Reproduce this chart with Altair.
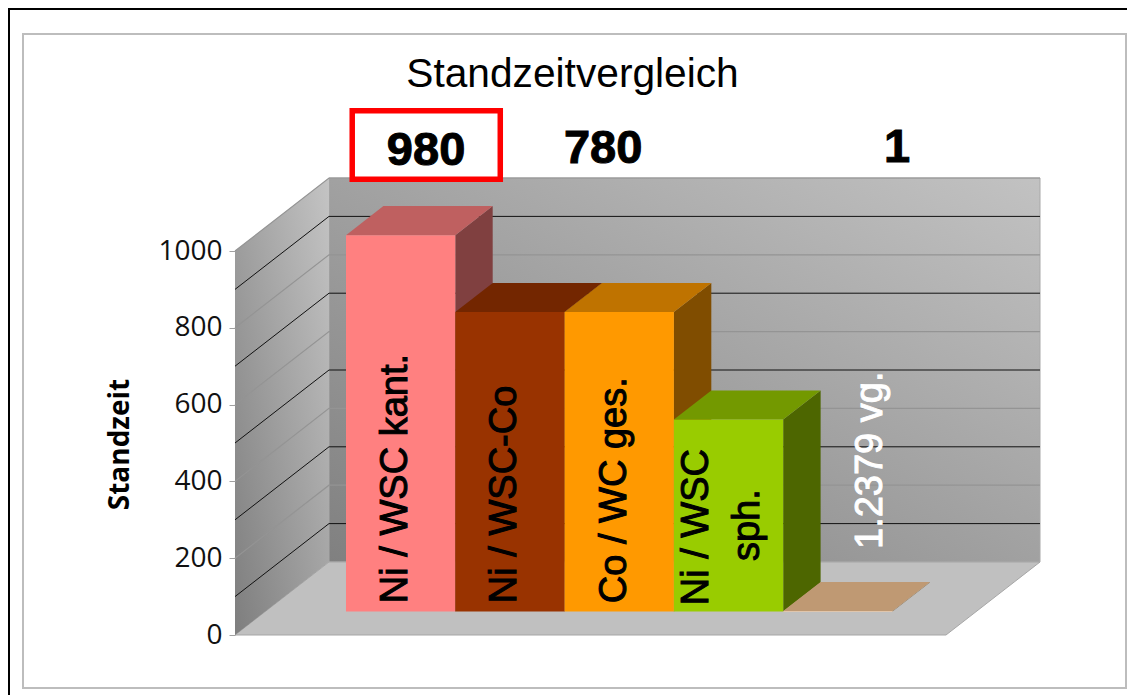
import altair as alt

# ---- data ----
series = ["Ni / WSC kant.", "Ni / WSC-Co", "Co / WC ges.", "Ni / WSC sph.", "1.2379 vg."]
values = [980, 780, 780, 500, 1]
front_colors = ["#FF8080", "#993300", "#FF9900", "#99CC00", "#FFCC99"]
top_colors = ["#BF6060", "#732600", "#BF7300", "#739900", "#BF9973"]
side_colors = ["#804040", "#4D1A00", "#804D00", "#4D6600", "#806640"]
y_ticks = [0, 200, 400, 600, 800, 1000]
grey_grid = [200, 400, 600, 800, 1000]
black_grid = [100, 300, 500, 700, 900]
top_labels = ["980", "780", "1"]

# ---- projection geometry of the oblique 3D box ----
W, H = 1119, 687
UNIT = 109.3          # pixels per bar slot
PPV = 0.384           # pixels per value unit
ORIGIN_X, ORIGIN_Y = 227, 627  # where slot 0 / value 0 of the front plane sits in the canvas
DEPTH_U = 94 / UNIT   # horizontal shift of full depth, in slots
DEPTH_V = 73 / PPV    # vertical shift of full depth, in value units
FLOOR_U = 711 / UNIT
BAR_START = 1.0155    # front-left corner of the first bar
Z0, Z1 = 0.322, 0.72

x_scale = alt.Scale(domain=[-ORIGIN_X / UNIT, (W - ORIGIN_X) / UNIT], nice=False, zero=False)
y_scale = alt.Scale(domain=[(ORIGIN_Y - H) / PPV, ORIGIN_Y / PPV], nice=False, zero=False)
y_axis = alt.Axis(
    values=y_ticks, offset=-ORIGIN_X, domain=False, grid=False, zindex=1, format="d",
    tickColor="#A0A0A0", tickSize=6, tickWidth=1, labelPadding=7,
    labelFont="Open Sans", labelFontSize=28, labelColor="#111111",
    titleFont="Open Sans", titleFontSize=28, titleFontWeight="bold", titleColor="black",
    titleX=-107, titleY=436, titleAngle=270, titleAlign="center", titleBaseline="alphabetic",
)


def X(f="x"):
    return alt.X(f + ":Q", scale=x_scale, axis=None, title=None)


def Y(f="y"):
    return alt.Y(f + ":Q", scale=y_scale, axis=y_axis, title="Standzeit")


def grad(a, b):
    return alt.Gradient(
        gradient="linear",
        stops=[alt.GradientStop(color=a, offset=0), alt.GradientStop(color=b, offset=1)],
        x1=0, y1=1, x2=1, y2=0,
    )


layers = []

# outer frames
layers.append(alt.Chart(alt.Data(values=[{"a": 0}])).mark_rule(color="black", strokeWidth=2).encode(
    x=alt.value(1), y=alt.value(0), y2=alt.value(H)))
layers.append(alt.Chart(alt.Data(values=[{"a": 0}])).mark_rule(color="black", strokeWidth=2).encode(
    y=alt.value(1), x=alt.value(0), x2=alt.value(W)))
layers.append(alt.Chart(alt.Data(values=[{"a": 0}])).mark_rect(
    fill="white", stroke="#BDBDBD", strokeWidth=2).encode(
    x=alt.value(15), x2=alt.value(1118), y=alt.value(26), y2=alt.value(680)))

# back wall
layers.append(alt.Chart(alt.Data(values=[{"x": DEPTH_U, "x2": DEPTH_U + FLOOR_U, "y": DEPTH_V, "y2": 1000 + DEPTH_V}])).mark_rect(
    color=grad("#808080", "#C2C2C2"), stroke="#A8A8A8", strokeWidth=1
).encode(x=X(), x2="x2:Q", y=Y(), y2="y2:Q"))

# floor
floor = [{"y": z * DEPTH_V, "x": z * DEPTH_U, "x2": FLOOR_U + z * DEPTH_U} for z in (0, 1)]
layers.append(alt.Chart(alt.Data(values=floor)).mark_area(
    orient="horizontal", color="#C0C0C0", stroke="#A6A6A6", strokeWidth=1).encode(
    y=Y(), x=X(), x2="x2:Q"))

# left wall
wall = [{"x": z * DEPTH_U, "y": z * DEPTH_V, "y2": 1000 + z * DEPTH_V} for z in (0, 1)]
layers.append(alt.Chart(alt.Data(values=wall)).mark_area(
    orient="vertical", color=grad("#7E7E7E", "#C4C4C4")).encode(
    x=X(), y=Y(), y2="y2:Q"))


# gridlines: front-left -> back-left -> back-right
def grid_rows(vals):
    rows = []
    for v in vals:
        rows.append({"v": v, "x": 0, "y": v})
        rows.append({"v": v, "x": DEPTH_U, "y": v + DEPTH_V})
        rows.append({"v": v, "x": DEPTH_U + FLOOR_U, "y": v + DEPTH_V})
    return rows


layers.append(alt.Chart(alt.Data(values=grid_rows(grey_grid))).mark_line(
    color="#949494", strokeWidth=1.2).encode(x=X(), y=Y(), detail="v:Q"))
layers.append(alt.Chart(alt.Data(values=grid_rows(black_grid))).mark_line(
    color="#111111", strokeWidth=1).encode(x=X(), y=Y(), detail="v:Q"))

# bars, left to right so that each overlaps the previous side face
for i, v in enumerate(values):
    left = BAR_START + i
    right = left + 1
    side = [
        {"x": right + (z - Z0) * DEPTH_U, "y": z * DEPTH_V, "y2": v + z * DEPTH_V}
        for z in (Z0, Z1)
    ]
    top = [
        {"y": v + z * DEPTH_V, "x": left + (z - Z0) * DEPTH_U, "x2": right + (z - Z0) * DEPTH_U}
        for z in (Z0, Z1)
    ]
    front = [{"x": left, "x2": right, "y": Z0 * DEPTH_V, "y2": v + Z0 * DEPTH_V}]
    layers.append(alt.Chart(alt.Data(values=side)).mark_area(
        orient="vertical", color=side_colors[i]).encode(x=X(), y=Y(), y2="y2:Q"))
    layers.append(alt.Chart(alt.Data(values=top)).mark_area(
        orient="horizontal", color=top_colors[i]).encode(y=Y(), x=X(), x2="x2:Q"))
    layers.append(alt.Chart(alt.Data(values=front)).mark_rect(
        color=front_colors[i]).encode(x=X(), x2="x2:Q", y=Y(), y2="y2:Q"))

# highlighted box round the first value
box = [{"x": 1.0725, "x2": 2.427, "y": 1187, "y2": 1365}]
layers.append(alt.Chart(alt.Data(values=box)).mark_rect(
    fill="white", stroke="#FF0000", strokeWidth=5.5).encode(x=X(), x2="x2:Q", y=Y(), y2="y2:Q"))

# value labels above the chart
tops = [
    {"t": top_labels[0], "x": 1.748, "y": 1224},
    {"t": top_labels[1], "x": 3.368, "y": 1229},
    {"t": top_labels[2], "x": 6.057, "y": 1232},
]
layers.append(alt.Chart(alt.Data(values=tops)).mark_text(
    font="Liberation Sans", fontSize=47, fontWeight="bold", color="black",
    stroke="black", strokeWidth=1,
    align="center", baseline="alphabetic").encode(x=X(), y=Y(), text="t:N"))

# series names inside the bars
names = [
    {"t": series[0], "x": BAR_START + 0.5 + 0.058, "y": 83},
    {"t": series[1], "x": BAR_START + 1.5 + 0.058, "y": 83},
    {"t": series[2], "x": BAR_START + 2.5 + 0.058, "y": 83},
]
layers.append(alt.Chart(alt.Data(values=names)).mark_text(
    font="Liberation Sans", fontSize=38, color="black", stroke="black", strokeWidth=1, angle=270,
    align="left", baseline="alphabetic").encode(x=X(), y=Y(), text="t:N"))
first, second = series[3].rsplit(" ", 1)
two_line = [
    {"t": first, "x": BAR_START + 3.5 - 0.185, "y": 281},
    {"t": second, "x": BAR_START + 3.5 + 0.28, "y": 286},
]
layers.append(alt.Chart(alt.Data(values=two_line)).mark_text(
    font="Liberation Sans", fontSize=38, color="black", stroke="black", strokeWidth=1, angle=270,
    align="center", baseline="alphabetic").encode(x=X(), y=Y(), text="t:N"))
layers.append(alt.Chart(alt.Data(values=[{"t": series[4], "x": 5.918, "y": 224}])).mark_text(
    font="Liberation Sans", fontSize=38, color="white", stroke="white", strokeWidth=1, angle=270,
    align="left", baseline="alphabetic").encode(x=X(), y=Y(), text="t:N"))

chart = alt.layer(*layers).properties(
    width=W, height=H, padding=0,
    autosize=alt.AutoSizeParams(type="none"),
    background="white",
    title=alt.TitleParams(
        "Standzeitvergleich", font="Liberation Sans", fontSize=40.7, fontWeight="normal",
        color="black", anchor="middle", frame="group", baseline="alphabetic", offset=0, dy=121, dx=5,
    ),
).configure_view(stroke=None)

chart.save("out.html", embed_options={"renderer": "svg", "actions": False})
